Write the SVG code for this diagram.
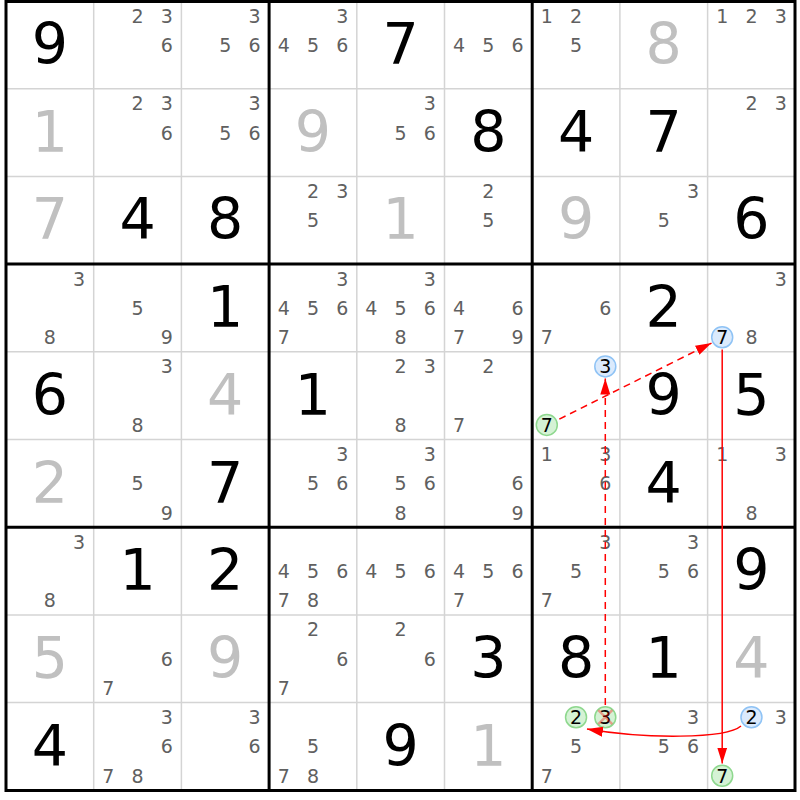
<svg xmlns="http://www.w3.org/2000/svg" width="800" height="800" viewBox="0 0 800 800">
<style>
text{font-family:"DejaVu Sans","Liberation Sans",sans-serif;text-anchor:middle}
.g{font-size:57px;fill:#000}
.s{font-size:57px;fill:#c0c0c0}
.c{font-size:19px;fill:#606060}
.h{font-size:19px;fill:#000}
.thin{stroke:#d4d4d4;stroke-width:1.5}
.thick{stroke:#000;stroke-width:3}
.cb{fill:#dbeafc;stroke:#8fc3f5;stroke-width:1.5}
.cg{fill:#d5f2d5;stroke:#8ed88e;stroke-width:1.5}
.arr{stroke:#f00;stroke-width:1.5;fill:none}
.dash{stroke-dasharray:7,5}
</style>
<defs>
<marker id="ah" markerUnits="userSpaceOnUse" markerWidth="17" markerHeight="11" refX="16" refY="5" orient="auto"><path d="M0,0 L16,5 L0,10 z" fill="#f00"/></marker>
</defs>
<rect x="0" y="0" width="800" height="800" fill="#fff"/>
<g id="thin-lines" class="thin">
<line x1="93.7" y1="1" x2="93.7" y2="790.3"/><line x1="181.4" y1="1" x2="181.4" y2="790.3"/>
<line x1="356.8" y1="1" x2="356.8" y2="790.3"/><line x1="444.5" y1="1" x2="444.5" y2="790.3"/>
<line x1="619.9" y1="1" x2="619.9" y2="790.3"/><line x1="707.6" y1="1" x2="707.6" y2="790.3"/>
<line x1="6" y1="88.7" x2="795.3" y2="88.7"/><line x1="6" y1="176.4" x2="795.3" y2="176.4"/>
<line x1="6" y1="351.8" x2="795.3" y2="351.8"/><line x1="6" y1="439.5" x2="795.3" y2="439.5"/>
<line x1="6" y1="614.9" x2="795.3" y2="614.9"/><line x1="6" y1="702.6" x2="795.3" y2="702.6"/>
</g>
<g id="thick-lines" class="thick">
<line x1="269.1" y1="1" x2="269.1" y2="790.3"/><line x1="532.2" y1="1" x2="532.2" y2="790.3"/>
<line x1="6" y1="264.1" x2="795.3" y2="264.1"/><line x1="6" y1="527.2" x2="795.3" y2="527.2"/>
<rect x="6" y="1.5" width="789" height="789" fill="none"/>
</g>
<!-- row 0 -->
<g id="r0c0" transform="translate(6,1)"><text class="g" x="43.85" y="63">9</text></g>
<g id="r0c1" transform="translate(93.7,1)"><text class="c" x="43.85" y="21.6">2</text><text class="c" x="73.1" y="21.6">3</text><text class="c" x="73.1" y="50.85">6</text></g>
<g id="r0c2" transform="translate(181.4,1)"><text class="c" x="73.1" y="21.6">3</text><text class="c" x="43.85" y="50.85">5</text><text class="c" x="73.1" y="50.85">6</text></g>
<g id="r0c3" transform="translate(269.1,1)"><text class="c" x="73.1" y="21.6">3</text><text class="c" x="14.6" y="50.85">4</text><text class="c" x="43.85" y="50.85">5</text><text class="c" x="73.1" y="50.85">6</text></g>
<g id="r0c4" transform="translate(356.8,1)"><text class="g" x="43.85" y="63">7</text></g>
<g id="r0c5" transform="translate(444.5,1)"><text class="c" x="14.6" y="50.85">4</text><text class="c" x="43.85" y="50.85">5</text><text class="c" x="73.1" y="50.85">6</text></g>
<g id="r0c6" transform="translate(532.2,1)"><text class="c" x="14.6" y="21.6">1</text><text class="c" x="43.85" y="21.6">2</text><text class="c" x="43.85" y="50.85">5</text></g>
<g id="r0c7" transform="translate(619.9,1)"><text class="s" x="43.85" y="63">8</text></g>
<g id="r0c8" transform="translate(707.6,1)"><text class="c" x="14.6" y="21.6">1</text><text class="c" x="43.85" y="21.6">2</text><text class="c" x="73.1" y="21.6">3</text></g>
<!-- row 1 -->
<g id="r1c0" transform="translate(6,88.7)"><text class="s" x="43.85" y="63">1</text></g>
<g id="r1c1" transform="translate(93.7,88.7)"><text class="c" x="43.85" y="21.6">2</text><text class="c" x="73.1" y="21.6">3</text><text class="c" x="73.1" y="50.85">6</text></g>
<g id="r1c2" transform="translate(181.4,88.7)"><text class="c" x="73.1" y="21.6">3</text><text class="c" x="43.85" y="50.85">5</text><text class="c" x="73.1" y="50.85">6</text></g>
<g id="r1c3" transform="translate(269.1,88.7)"><text class="s" x="43.85" y="63">9</text></g>
<g id="r1c4" transform="translate(356.8,88.7)"><text class="c" x="73.1" y="21.6">3</text><text class="c" x="43.85" y="50.85">5</text><text class="c" x="73.1" y="50.85">6</text></g>
<g id="r1c5" transform="translate(444.5,88.7)"><text class="g" x="43.85" y="63">8</text></g>
<g id="r1c6" transform="translate(532.2,88.7)"><text class="g" x="43.85" y="63">4</text></g>
<g id="r1c7" transform="translate(619.9,88.7)"><text class="g" x="43.85" y="63">7</text></g>
<g id="r1c8" transform="translate(707.6,88.7)"><text class="c" x="43.85" y="21.6">2</text><text class="c" x="73.1" y="21.6">3</text></g>
<!-- row 2 -->
<g id="r2c0" transform="translate(6,176.4)"><text class="s" x="43.85" y="63">7</text></g>
<g id="r2c1" transform="translate(93.7,176.4)"><text class="g" x="43.85" y="63">4</text></g>
<g id="r2c2" transform="translate(181.4,176.4)"><text class="g" x="43.85" y="63">8</text></g>
<g id="r2c3" transform="translate(269.1,176.4)"><text class="c" x="43.85" y="21.6">2</text><text class="c" x="73.1" y="21.6">3</text><text class="c" x="43.85" y="50.85">5</text></g>
<g id="r2c4" transform="translate(356.8,176.4)"><text class="s" x="43.85" y="63">1</text></g>
<g id="r2c5" transform="translate(444.5,176.4)"><text class="c" x="43.85" y="21.6">2</text><text class="c" x="43.85" y="50.85">5</text></g>
<g id="r2c6" transform="translate(532.2,176.4)"><text class="s" x="43.85" y="63">9</text></g>
<g id="r2c7" transform="translate(619.9,176.4)"><text class="c" x="73.1" y="21.6">3</text><text class="c" x="43.85" y="50.85">5</text></g>
<g id="r2c8" transform="translate(707.6,176.4)"><text class="g" x="43.85" y="63">6</text></g>
<!-- row 3 -->
<g id="r3c0" transform="translate(6,264.1)"><text class="c" x="73.1" y="21.6">3</text><text class="c" x="43.85" y="80.1">8</text></g>
<g id="r3c1" transform="translate(93.7,264.1)"><text class="c" x="43.85" y="50.85">5</text><text class="c" x="73.1" y="80.1">9</text></g>
<g id="r3c2" transform="translate(181.4,264.1)"><text class="g" x="43.85" y="63">1</text></g>
<g id="r3c3" transform="translate(269.1,264.1)"><text class="c" x="73.1" y="21.6">3</text><text class="c" x="14.6" y="50.85">4</text><text class="c" x="43.85" y="50.85">5</text><text class="c" x="73.1" y="50.85">6</text><text class="c" x="14.6" y="80.1">7</text></g>
<g id="r3c4" transform="translate(356.8,264.1)"><text class="c" x="73.1" y="21.6">3</text><text class="c" x="14.6" y="50.85">4</text><text class="c" x="43.85" y="50.85">5</text><text class="c" x="73.1" y="50.85">6</text><text class="c" x="43.85" y="80.1">8</text></g>
<g id="r3c5" transform="translate(444.5,264.1)"><text class="c" x="14.6" y="50.85">4</text><text class="c" x="73.1" y="50.85">6</text><text class="c" x="14.6" y="80.1">7</text><text class="c" x="73.1" y="80.1">9</text></g>
<g id="r3c6" transform="translate(532.2,264.1)"><text class="c" x="73.1" y="50.85">6</text><text class="c" x="14.6" y="80.1">7</text></g>
<g id="r3c7" transform="translate(619.9,264.1)"><text class="g" x="43.85" y="63">2</text></g>
<g id="r3c8" transform="translate(707.6,264.1)"><text class="c" x="73.1" y="21.6">3</text><circle class="cb" cx="14.6" cy="73.1" r="10.5"/><text class="h" x="14.6" y="80.1">7</text><text class="c" x="43.85" y="80.1">8</text></g>
<!-- row 4 -->
<g id="r4c0" transform="translate(6,351.8)"><text class="g" x="43.85" y="63">6</text></g>
<g id="r4c1" transform="translate(93.7,351.8)"><text class="c" x="73.1" y="21.6">3</text><text class="c" x="43.85" y="80.1">8</text></g>
<g id="r4c2" transform="translate(181.4,351.8)"><text class="s" x="43.85" y="63">4</text></g>
<g id="r4c3" transform="translate(269.1,351.8)"><text class="g" x="43.85" y="63">1</text></g>
<g id="r4c4" transform="translate(356.8,351.8)"><text class="c" x="43.85" y="21.6">2</text><text class="c" x="73.1" y="21.6">3</text><text class="c" x="43.85" y="80.1">8</text></g>
<g id="r4c5" transform="translate(444.5,351.8)"><text class="c" x="43.85" y="21.6">2</text><text class="c" x="14.6" y="80.1">7</text></g>
<g id="r4c6" transform="translate(532.2,351.8)"><circle class="cb" cx="73.1" cy="14.6" r="10.5"/><text class="h" x="73.1" y="21.6">3</text><circle class="cg" cx="14.6" cy="73.1" r="10.5"/><text class="h" x="14.6" y="80.1">7</text></g>
<g id="r4c7" transform="translate(619.9,351.8)"><text class="g" x="43.85" y="63">9</text></g>
<g id="r4c8" transform="translate(707.6,351.8)"><text class="g" x="43.85" y="63">5</text></g>
<!-- row 5 -->
<g id="r5c0" transform="translate(6,439.5)"><text class="s" x="43.85" y="63">2</text></g>
<g id="r5c1" transform="translate(93.7,439.5)"><text class="c" x="43.85" y="50.85">5</text><text class="c" x="73.1" y="80.1">9</text></g>
<g id="r5c2" transform="translate(181.4,439.5)"><text class="g" x="43.85" y="63">7</text></g>
<g id="r5c3" transform="translate(269.1,439.5)"><text class="c" x="73.1" y="21.6">3</text><text class="c" x="43.85" y="50.85">5</text><text class="c" x="73.1" y="50.85">6</text></g>
<g id="r5c4" transform="translate(356.8,439.5)"><text class="c" x="73.1" y="21.6">3</text><text class="c" x="43.85" y="50.85">5</text><text class="c" x="73.1" y="50.85">6</text><text class="c" x="43.85" y="80.1">8</text></g>
<g id="r5c5" transform="translate(444.5,439.5)"><text class="c" x="73.1" y="50.85">6</text><text class="c" x="73.1" y="80.1">9</text></g>
<g id="r5c6" transform="translate(532.2,439.5)"><text class="c" x="14.6" y="21.6">1</text><text class="c" x="73.1" y="21.6">3</text><text class="c" x="73.1" y="50.85">6</text></g>
<g id="r5c7" transform="translate(619.9,439.5)"><text class="g" x="43.85" y="63">4</text></g>
<g id="r5c8" transform="translate(707.6,439.5)"><text class="c" x="14.6" y="21.6">1</text><text class="c" x="73.1" y="21.6">3</text><text class="c" x="43.85" y="80.1">8</text></g>
<!-- row 6 -->
<g id="r6c0" transform="translate(6,527.2)"><text class="c" x="73.1" y="21.6">3</text><text class="c" x="43.85" y="80.1">8</text></g>
<g id="r6c1" transform="translate(93.7,527.2)"><text class="g" x="43.85" y="63">1</text></g>
<g id="r6c2" transform="translate(181.4,527.2)"><text class="g" x="43.85" y="63">2</text></g>
<g id="r6c3" transform="translate(269.1,527.2)"><text class="c" x="14.6" y="50.85">4</text><text class="c" x="43.85" y="50.85">5</text><text class="c" x="73.1" y="50.85">6</text><text class="c" x="14.6" y="80.1">7</text><text class="c" x="43.85" y="80.1">8</text></g>
<g id="r6c4" transform="translate(356.8,527.2)"><text class="c" x="14.6" y="50.85">4</text><text class="c" x="43.85" y="50.85">5</text><text class="c" x="73.1" y="50.85">6</text></g>
<g id="r6c5" transform="translate(444.5,527.2)"><text class="c" x="14.6" y="50.85">4</text><text class="c" x="43.85" y="50.85">5</text><text class="c" x="73.1" y="50.85">6</text><text class="c" x="14.6" y="80.1">7</text></g>
<g id="r6c6" transform="translate(532.2,527.2)"><text class="c" x="73.1" y="21.6">3</text><text class="c" x="43.85" y="50.85">5</text><text class="c" x="14.6" y="80.1">7</text></g>
<g id="r6c7" transform="translate(619.9,527.2)"><text class="c" x="73.1" y="21.6">3</text><text class="c" x="43.85" y="50.85">5</text><text class="c" x="73.1" y="50.85">6</text></g>
<g id="r6c8" transform="translate(707.6,527.2)"><text class="g" x="43.85" y="63">9</text></g>
<!-- row 7 -->
<g id="r7c0" transform="translate(6,614.9)"><text class="s" x="43.85" y="63">5</text></g>
<g id="r7c1" transform="translate(93.7,614.9)"><text class="c" x="73.1" y="50.85">6</text><text class="c" x="14.6" y="80.1">7</text></g>
<g id="r7c2" transform="translate(181.4,614.9)"><text class="s" x="43.85" y="63">9</text></g>
<g id="r7c3" transform="translate(269.1,614.9)"><text class="c" x="43.85" y="21.6">2</text><text class="c" x="73.1" y="50.85">6</text><text class="c" x="14.6" y="80.1">7</text></g>
<g id="r7c4" transform="translate(356.8,614.9)"><text class="c" x="43.85" y="21.6">2</text><text class="c" x="73.1" y="50.85">6</text></g>
<g id="r7c5" transform="translate(444.5,614.9)"><text class="g" x="43.85" y="63">3</text></g>
<g id="r7c6" transform="translate(532.2,614.9)"><text class="g" x="43.85" y="63">8</text></g>
<g id="r7c7" transform="translate(619.9,614.9)"><text class="g" x="43.85" y="63">1</text></g>
<g id="r7c8" transform="translate(707.6,614.9)"><text class="s" x="43.85" y="63">4</text></g>
<!-- row 8 -->
<g id="r8c0" transform="translate(6,702.6)"><text class="g" x="43.85" y="63">4</text></g>
<g id="r8c1" transform="translate(93.7,702.6)"><text class="c" x="73.1" y="21.6">3</text><text class="c" x="73.1" y="50.85">6</text><text class="c" x="14.6" y="80.1">7</text><text class="c" x="43.85" y="80.1">8</text></g>
<g id="r8c2" transform="translate(181.4,702.6)"><text class="c" x="73.1" y="21.6">3</text><text class="c" x="73.1" y="50.85">6</text></g>
<g id="r8c3" transform="translate(269.1,702.6)"><text class="c" x="43.85" y="50.85">5</text><text class="c" x="14.6" y="80.1">7</text><text class="c" x="43.85" y="80.1">8</text></g>
<g id="r8c4" transform="translate(356.8,702.6)"><text class="g" x="43.85" y="63">9</text></g>
<g id="r8c5" transform="translate(444.5,702.6)"><text class="s" x="43.85" y="63">1</text></g>
<g id="r8c6" transform="translate(532.2,702.6)"><circle class="cg" cx="43.85" cy="14.6" r="10.5"/><text class="h" x="43.85" y="21.6">2</text><circle class="cg" cx="73.1" cy="14.6" r="10.5"/><text class="h" x="73.1" y="21.6">3</text><path d="M66.1,7.6 L80.1,21.6 M80.1,7.6 L66.1,21.6" stroke="#f00" stroke-opacity="0.35" stroke-width="2.5"/><text class="c" x="43.85" y="50.85">5</text><text class="c" x="14.6" y="80.1">7</text></g>
<g id="r8c7" transform="translate(619.9,702.6)"><text class="c" x="73.1" y="21.6">3</text><text class="c" x="43.85" y="50.85">5</text><text class="c" x="73.1" y="50.85">6</text></g>
<g id="r8c8" transform="translate(707.6,702.6)"><circle class="cb" cx="43.85" cy="14.6" r="10.5"/><text class="h" x="43.85" y="21.6">2</text><text class="c" x="73.1" y="21.6">3</text><circle class="cg" cx="14.6" cy="73.1" r="10.5"/><text class="h" x="14.6" y="80.1">7</text></g>
<g id="connectors">
<path class="arr dash" d="M559.3,419.1 L711.5,343.1" marker-end="url(#ah)"/>
<path class="arr dash" d="M605.3,705 L605.3,378.6" marker-end="url(#ah)"/>
<path class="arr" d="M722.2,349.5 L722.2,763.5" marker-end="url(#ah)"/>
<path class="arr" d="M741,726 C726,739 645,739 587,729" marker-end="url(#ah)"/>
</g>
</svg>
